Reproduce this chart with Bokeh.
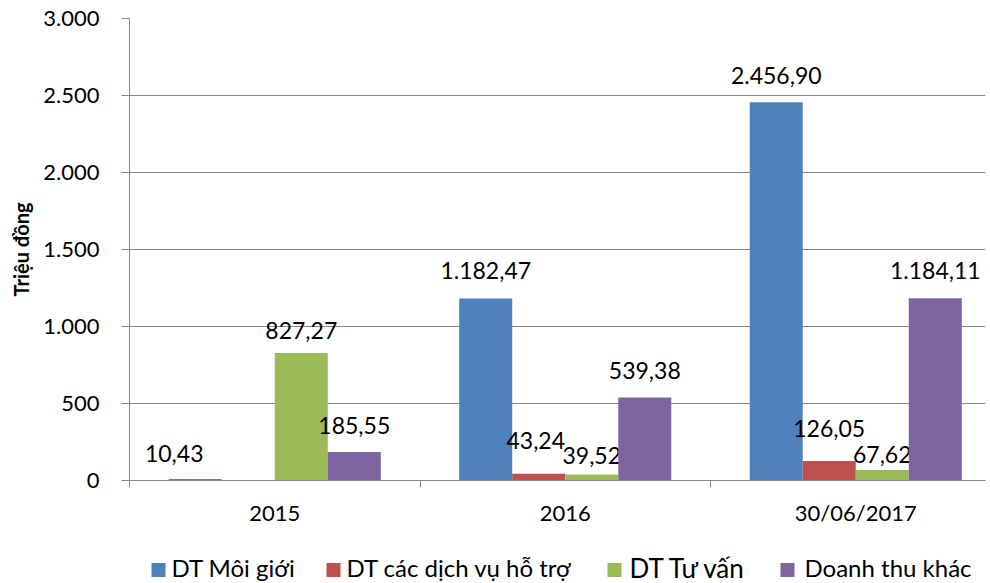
from bokeh.plotting import figure
from bokeh.models import ColumnDataSource, Range1d, FixedTicker
from bokeh.layouts import column
from bokeh.transform import dodge
from bokeh.core.properties import value
from bokeh.embed import file_html
from bokeh.resources import INLINE
import math

# ---- data ----
categories = ["2015", "2016", "30/06/2017"]
series_names = ["DT Môi giới", "DT các dịch vụ hỗ trợ", "DT Tư vấn", "Doanh thu khác"]
moi_gioi = [10.43, 1182.47, 2456.90]
dich_vu = [float("nan"), 43.24, 126.05]
tu_van = [827.27, 39.52, 67.62]
khac = [185.55, 539.38, 1184.11]
y_ticks = [0, 500, 1000, 1500, 2000, 2500, 3000]
y_tick_labels = ["0", "500", "1.000", "1.500", "2.000", "2.500", "3.000"]

# ---- style ----
colors = ["#4F81BD", "#C0504D", "#9BBB59", "#8064A2"]
FONT = "Lato"
GRID = "#868686"
bar_w = 0.1825
offsets = [-1.5 * bar_w, -0.5 * bar_w, 0.5 * bar_w, 1.5 * bar_w]
# per-label pixel nudges (label centre above bar top, horizontal shift)
label_dy = [[25, 28, 27], [0, 33, 33], [23, 19, 16], [26, 27, 28]]
label_dx = [[-21, 0, 0], [0, -3, 0], [0, 0, 0], [0, 0, 0]]
# legend strip layout (screen px)
legend_swatch_left = [151, 326, 607, 780]
legend_text_left = [171, 346, 629, 804]
legend_font_sizes = ["24px", "24px", "26px", "24px"]


def vn(v):
    s = f"{v:,.2f}"
    return s.replace(",", "X").replace(".", ",").replace("X", ".")


xs = [i + 0.5 for i in range(len(categories))]
series = [moi_gioi, dich_vu, tu_van, khac]

p = figure(width=986, height=538, output_backend="svg", toolbar_location=None,
           x_range=Range1d(0, 856 / 290.5), y_range=Range1d(0, 3000),
           min_border_left=129, min_border_right=1, min_border_top=18,
           min_border_bottom=58)
p.outline_line_color = None
p.background_fill_color = "white"
p.border_fill_color = "white"

for k, vals in enumerate(series):
    src = ColumnDataSource(dict(x=xs, top=[0 if math.isnan(v) else v for v in vals]))
    p.vbar(x=dodge("x", offsets[k], range=p.x_range), top="top", width=bar_w,
           source=src, fill_color=colors[k], line_color=None)
    lx, ly, lt, ldx, ldy = [], [], [], [], []
    for i, v in enumerate(vals):
        if math.isnan(v):
            continue
        lx.append(xs[i]); ly.append(v); lt.append(vn(v))
        ldx.append(label_dx[k][i]); ldy.append(-label_dy[k][i])
    lsrc = ColumnDataSource(dict(x=lx, y=ly, t=lt, dx=ldx, dy=ldy))
    p.text(x=dodge("x", offsets[k], range=p.x_range), y="y", text="t", source=lsrc,
           x_offset="dx", y_offset="dy", text_align="center", text_baseline="middle",
           text_font=value(FONT), text_font_size="23px", text_color="black")

# axes
p.xaxis.ticker = FixedTicker(ticks=xs, minor_ticks=[0, 1, 2, 3])
p.xaxis.major_label_overrides = {x: c for x, c in zip(xs, categories)}
p.xaxis.major_tick_out = 0
p.xaxis.major_tick_in = 0
p.xaxis.minor_tick_out = 7
p.xaxis.minor_tick_in = 0
p.xaxis.minor_tick_line_color = GRID
p.xaxis.axis_line_color = GRID
p.xaxis.major_label_standoff = 11
p.xaxis.major_label_text_font = FONT
p.xaxis.major_label_text_font_size = "22px"
p.xaxis.major_label_text_color = "black"

p.yaxis.ticker = FixedTicker(ticks=y_ticks)
p.yaxis.major_label_overrides = {t: l for t, l in zip(y_ticks, y_tick_labels)}
p.yaxis.minor_tick_line_color = None
p.yaxis.major_tick_out = 8
p.yaxis.major_tick_in = 0
p.yaxis.major_tick_line_color = GRID
p.yaxis.axis_line_color = GRID
p.yaxis.major_label_standoff = 22
p.yaxis.major_label_text_font = FONT
p.yaxis.major_label_text_font_size = "22px"
p.yaxis.major_label_text_color = "black"
p.yaxis.axis_label = "Triệu đồng"
p.yaxis.axis_label_text_font = FONT
p.yaxis.axis_label_text_font_style = "bold"
p.yaxis.axis_label_text_font_size = "20px"
p.yaxis.axis_label_text_color = "black"
p.yaxis.axis_label_standoff = 7

p.xgrid.grid_line_color = None
p.ygrid.grid_line_color = GRID
p.ygrid.grid_line_width = 1

# ---- legend strip (its frame is aligned with the chart frame: 129..985 px) ----
lg = figure(width=986, height=45, output_backend="svg", toolbar_location=None,
            x_range=Range1d(129, 985), y_range=Range1d(0, 45),
            x_axis_type=None, y_axis_type=None,
            min_border_left=129, min_border_right=1, min_border_top=0, min_border_bottom=0)
lg.outline_line_color = None
lg.xgrid.visible = False
lg.ygrid.visible = False
lg.background_fill_color = "white"
lg.border_fill_color = "white"
sw = ColumnDataSource(dict(x=[v + 7 for v in legend_swatch_left], y=[13.5] * 4, c=colors))
lg.rect(x="x", y="y", width=14, height=14, width_units="screen", height_units="screen",
        fill_color="c", line_color=None, source=sw)
ts = ColumnDataSource(dict(x=legend_text_left, y=[16] * 4, t=series_names, fs=legend_font_sizes))
lg.text(x="x", y="y", text="t", text_font_size="fs", source=ts, text_align="left",
        text_baseline="middle", text_font=value(FONT), text_color="black")

layout = column(p, lg, spacing=0)
open("out.html", "w").write(file_html(layout, INLINE))
